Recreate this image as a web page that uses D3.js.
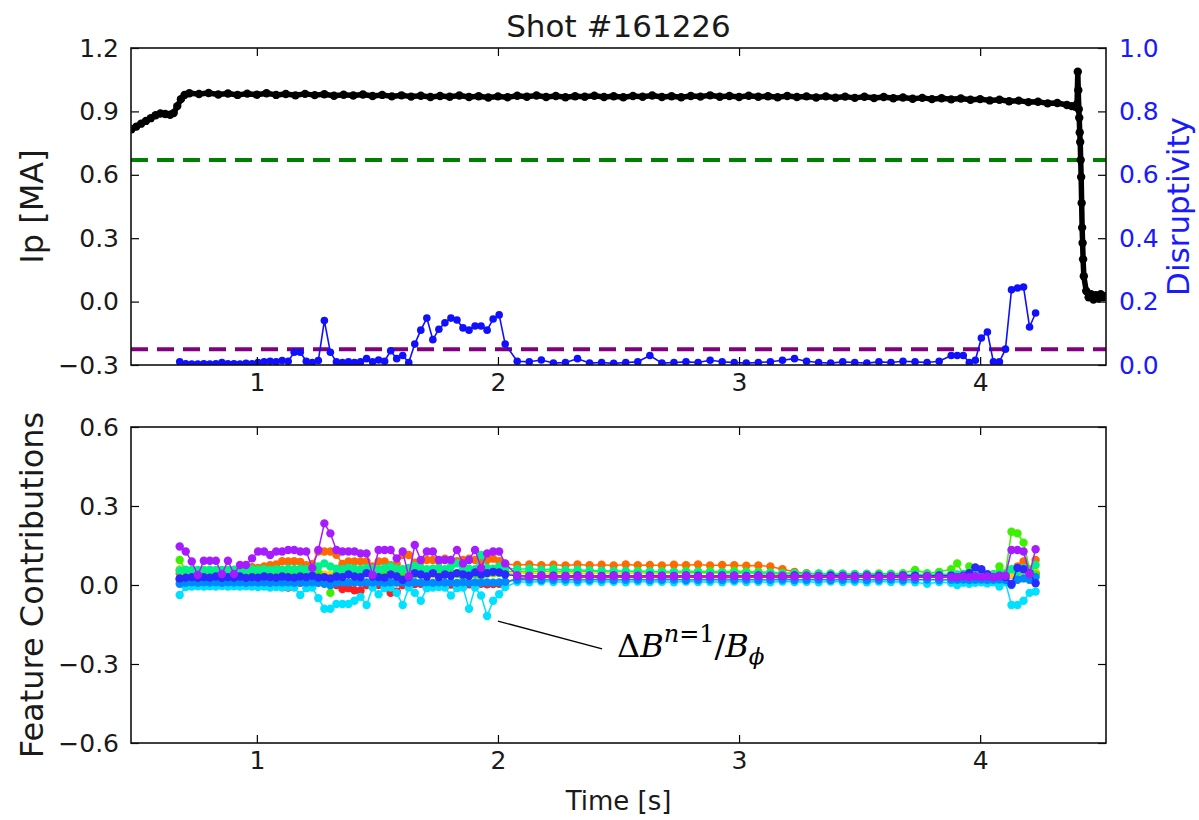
<!DOCTYPE html>
<html>
<head>
<meta charset="utf-8">
<script src="https://cdn.jsdelivr.net/npm/d3@7"></script>
<style>
body { margin: 0; background: #fff; }
text { font-family: "DejaVu Sans", sans-serif; fill: #1a1a1a; }
</style>
</head>
<body>
<script>
// ---- plasma current (top panel, left axis) ----
var ipT = [
	0.48, 0.50, 0.52, 0.54, 0.56, 0.58, 0.60, 0.62, 0.64, 0.655,
	0.67, 0.685, 0.70, 0.72, 0.76, 0.80, 0.84, 0.88, 0.92, 0.96,
	1.00, 1.04, 1.08, 1.12, 1.16, 1.20, 1.24, 1.28, 1.32, 1.36,
	1.40, 1.44, 1.48, 1.52, 1.56, 1.60, 1.64, 1.68, 1.72, 1.76,
	1.80, 1.84, 1.88, 1.92, 1.96, 2.00, 2.04, 2.08, 2.12, 2.16,
	2.20, 2.24, 2.28, 2.32, 2.36, 2.40, 2.44, 2.48, 2.52, 2.56,
	2.60, 2.64, 2.68, 2.72, 2.76, 2.80, 2.84, 2.88, 2.92, 2.96,
	3.00, 3.04, 3.08, 3.12, 3.16, 3.20, 3.24, 3.28, 3.32, 3.36,
	3.40, 3.44, 3.48, 3.52, 3.56, 3.60, 3.64, 3.68, 3.72, 3.76,
	3.80, 3.84, 3.88, 3.92, 3.96, 4.00, 4.04, 4.08, 4.12, 4.16,
	4.20, 4.24, 4.28, 4.32, 4.36, 4.38, 4.395, 4.402, 4.405, 4.407,
	4.409, 4.411, 4.413, 4.415, 4.417, 4.419, 4.421, 4.423, 4.425, 4.427,
	4.43, 4.44, 4.45, 4.46, 4.47, 4.48, 4.49, 4.50, 4.51, 4.52
];
var ipMA = [
	0.815, 0.828, 0.842, 0.855, 0.868, 0.882, 0.890, 0.888, 0.884, 0.892,
	0.925, 0.958, 0.978, 0.986, 0.982, 0.987, 0.980, 0.985, 0.978, 0.984,
	0.979, 0.986, 0.978, 0.982, 0.976, 0.983, 0.977, 0.981, 0.974, 0.979,
	0.975, 0.980, 0.973, 0.978, 0.971, 0.976, 0.970, 0.974, 0.968, 0.973,
	0.969, 0.975, 0.968, 0.972, 0.966, 0.971, 0.967, 0.974, 0.969, 0.975,
	0.968, 0.973, 0.967, 0.972, 0.969, 0.974, 0.968, 0.972, 0.967, 0.973,
	0.969, 0.975, 0.968, 0.972, 0.967, 0.973, 0.970, 0.976, 0.969, 0.973,
	0.968, 0.974, 0.969, 0.972, 0.967, 0.973, 0.968, 0.971, 0.966, 0.971,
	0.965, 0.970, 0.964, 0.969, 0.963, 0.968, 0.962, 0.966, 0.960, 0.964,
	0.958, 0.962, 0.957, 0.961, 0.955, 0.958, 0.952, 0.955, 0.948, 0.951,
	0.944, 0.946, 0.938, 0.940, 0.930, 0.925, 0.922, 0.935, 1.088, 1.000,
	0.910, 0.870, 0.800, 0.755, 0.670, 0.590, 0.466, 0.350, 0.277, 0.200,
	0.120, 0.050, 0.020, 0.035, 0.010, 0.030, 0.015, 0.035, 0.020, 0.025
];

// ---- model output times (shared by disruptivity and feature contributions) ----
var t = [
	0.680, 0.705, 0.730, 0.755, 0.780, 0.805, 0.830, 0.855, 0.880, 0.905, 0.930, 0.955, 0.980, 1.005, 1.030, 1.055, 1.080, 1.105, 1.130, 1.155,
	1.180, 1.205, 1.230, 1.255, 1.280, 1.305, 1.330, 1.355, 1.380, 1.405, 1.430, 1.455, 1.480, 1.505, 1.530, 1.555, 1.580, 1.605, 1.630, 1.655,
	1.680, 1.705, 1.730, 1.755, 1.780, 1.805, 1.830, 1.855, 1.880, 1.905, 1.930, 1.955, 1.980, 2.005, 2.030,
	2.08, 2.13, 2.18, 2.23, 2.28, 2.33, 2.38, 2.43, 2.48, 2.53, 2.58, 2.63, 2.68, 2.73, 2.78, 2.83, 2.88, 2.93, 2.98,
	3.03, 3.08, 3.13, 3.18, 3.23, 3.28, 3.33, 3.38, 3.43, 3.48, 3.53, 3.58, 3.63, 3.68, 3.73, 3.78, 3.83, 3.88,
	3.905, 3.930, 3.955, 3.980, 4.005, 4.030, 4.055, 4.080, 4.105, 4.130, 4.155, 4.180, 4.205, 4.230
];

var disruptivity = [
	0.010, 0.004, 0.003, 0.003, 0.004, 0.003, 0.004, 0.008, 0.004, 0.004, 0.003, 0.005, 0.004, 0.008, 0.010, 0.012, 0.010, 0.014, 0.012, 0.040,
	0.040, 0.012, 0.008, 0.014, 0.140, 0.040, 0.010, 0.008, 0.010, 0.008, 0.010, 0.020, 0.010, 0.016, 0.012, 0.045, 0.020, 0.030, 0.008, 0.066,
	0.110, 0.148, 0.080, 0.113, 0.133, 0.148, 0.142, 0.117, 0.110, 0.123, 0.123, 0.110, 0.145, 0.158, 0.066,
	0.012, 0.010, 0.016, 0.006, 0.008, 0.020, 0.006, 0.008, 0.005, 0.008, 0.010, 0.030, 0.006, 0.008, 0.010, 0.008, 0.015, 0.010, 0.008,
	0.006, 0.008, 0.010, 0.015, 0.020, 0.012, 0.008, 0.006, 0.010, 0.008, 0.006, 0.010, 0.008, 0.012, 0.010, 0.008, 0.012, 0.030,
	0.030, 0.030, 0.008, 0.015, 0.085, 0.104, 0.010, 0.010, 0.050, 0.237, 0.243, 0.246, 0.120, 0.164
];

// feature contributions, one array per feature (hsv colour order)
var fcRed = [
	0.020, 0.018, 0.020, 0.017, 0.019, 0.018, 0.020, 0.017, 0.019, 0.018, 0.015, 0.012, 0.010, 0.012, 0.010, 0.008, 0.005, 0.005, -0.010, 0.005,
	0.008, 0.005, 0.006, 0.010, 0.008, 0.005, 0.000, -0.015, -0.012, -0.020, -0.022, 0.000, 0.005, 0.000, -0.005, -0.030, -0.025, 0.000, 0.005, 0.004,
	0.005, 0.002, 0.000, 0.004, 0.005, 0.002, 0.000, 0.004, 0.003, 0.000, 0.005, 0.003, 0.004, 0.005, 0.010,
	0.025, 0.028, 0.030, 0.027, 0.030, 0.028, 0.030, 0.027, 0.029, 0.030, 0.028, 0.030, 0.027, 0.029, 0.030, 0.028, 0.030, 0.027, 0.029,
	0.030, 0.028, 0.030, 0.027, 0.029, 0.030, 0.028, 0.030, 0.027, 0.029, 0.030, 0.028, 0.030, 0.027, 0.029, 0.030, 0.028, 0.030,
	0.030, 0.028, 0.030, 0.032, 0.030, 0.028, 0.030, 0.032, 0.030, 0.040, 0.050, 0.075, 0.040, 0.045
];
var fcOrange = [
	0.045, 0.048, 0.046, 0.050, 0.047, 0.049, 0.046, 0.050, 0.048, 0.052, 0.060, 0.065, 0.068, 0.065, 0.070, 0.075, 0.078, 0.090, 0.089, 0.090,
	0.088, 0.075, 0.080, 0.127, 0.127, 0.127, 0.115, 0.080, 0.089, 0.089, 0.089, 0.089, 0.070, 0.089, 0.089, 0.075, 0.080, 0.114, 0.114, 0.085,
	0.090, 0.095, 0.095, 0.090, 0.100, 0.095, 0.090, 0.095, 0.100, 0.095, 0.090, 0.095, 0.100, 0.090, 0.080,
	0.076, 0.078, 0.075, 0.077, 0.074, 0.078, 0.075, 0.077, 0.074, 0.078, 0.075, 0.076, 0.074, 0.077, 0.075, 0.078, 0.074, 0.076, 0.075,
	0.073, 0.074, 0.070, 0.060, 0.050, 0.045, 0.042, 0.040, 0.041, 0.039, 0.040, 0.038, 0.040, 0.039, 0.037, 0.040, 0.038, 0.040,
	0.038, 0.040, 0.037, 0.040, 0.042, 0.038, 0.040, 0.042, 0.040, 0.050, 0.070, 0.089, 0.050, 0.095
];
var fcYellow = [
	0.060, 0.045, 0.043, 0.045, 0.044, 0.046, 0.043, 0.045, 0.044, 0.046, 0.043, 0.045, 0.044, 0.046, 0.043, 0.045, 0.044, 0.046, 0.043, 0.045,
	0.044, 0.046, 0.043, 0.045, 0.040, 0.038, 0.042, 0.045, 0.044, 0.046, 0.043, 0.045, 0.044, 0.046, 0.043, 0.045, 0.044, 0.046, 0.043, 0.045,
	0.044, 0.046, 0.043, 0.045, 0.044, 0.046, 0.043, 0.045, 0.044, 0.046, 0.043, 0.045, 0.044, 0.046, 0.043,
	0.045, 0.046, 0.044, 0.045, 0.046, 0.044, 0.045, 0.046, 0.044, 0.045, 0.046, 0.044, 0.045, 0.046, 0.044, 0.045, 0.046, 0.044, 0.045,
	0.044, 0.043, 0.042, 0.040, 0.038, 0.036, 0.035, 0.036, 0.035, 0.034, 0.035, 0.036, 0.035, 0.034, 0.035, 0.036, 0.035, 0.034,
	0.035, 0.036, 0.035, 0.034, 0.035, 0.036, 0.035, 0.034, 0.035, 0.040, 0.045, 0.050, 0.020, 0.050
];
var fcLime = [
	0.095, 0.055, 0.057, 0.055, 0.057, 0.054, 0.057, 0.055, 0.057, 0.054, 0.050, 0.052, 0.048, 0.050, 0.047, 0.050, 0.046, 0.048, 0.045, 0.047,
	0.045, 0.047, 0.044, 0.046, 0.020, -0.030, 0.040, 0.045, 0.043, 0.046, 0.040, 0.045, 0.042, 0.046, 0.044, 0.040, 0.043, 0.045, 0.020, 0.040,
	0.045, 0.042, 0.046, 0.044, 0.040, 0.045, 0.043, 0.030, 0.045, 0.042, 0.010, 0.044, 0.046, 0.045, 0.050,
	0.052, 0.050, 0.053, 0.051, 0.052, 0.050, 0.053, 0.051, 0.052, 0.050, 0.053, 0.051, 0.052, 0.050, 0.053, 0.051, 0.052, 0.050, 0.053,
	0.051, 0.050, 0.048, 0.046, 0.045, 0.044, 0.043, 0.044, 0.043, 0.042, 0.043, 0.044, 0.043, 0.045, 0.057, 0.045, 0.050, 0.060,
	0.082, 0.040, 0.070, 0.040, 0.035, 0.040, 0.040, 0.070, 0.045, 0.202, 0.196, 0.161, 0.060, 0.040
];
var fcSpring = [
	0.055, 0.058, 0.055, 0.057, 0.055, 0.058, 0.056, 0.057, 0.055, 0.058, 0.056, 0.058, 0.060, 0.058, 0.060, 0.057, 0.060, 0.058, 0.062, 0.060,
	0.062, 0.060, 0.058, 0.070, 0.082, 0.070, 0.062, 0.060, 0.065, 0.062, 0.060, 0.065, 0.062, 0.060, 0.065, 0.070, 0.062, 0.060, 0.065, 0.072,
	0.065, 0.060, 0.062, 0.065, 0.060, 0.070, 0.082, 0.065, 0.062, 0.060, 0.114, 0.065, 0.062, 0.070, 0.065,
	0.060, 0.062, 0.058, 0.061, 0.057, 0.058, 0.055, 0.054, 0.052, 0.053, 0.050, 0.051, 0.049, 0.050, 0.048, 0.049, 0.047, 0.048, 0.046,
	0.047, 0.045, 0.046, 0.044, 0.045, 0.043, 0.044, 0.042, 0.043, 0.041, 0.042, 0.040, 0.041, 0.040, 0.041, 0.040, 0.042, 0.040,
	0.040, 0.042, 0.040, 0.041, 0.040, 0.042, 0.040, 0.041, 0.042, 0.060, 0.050, 0.065, 0.050, 0.076
];
var fcCyan = [
	-0.038, -0.008, -0.006, -0.005, -0.006, -0.005, -0.006, -0.004, -0.006, -0.005, -0.006, -0.005, -0.006, -0.008, -0.006, -0.010, -0.008, -0.010, -0.008, -0.010,
	-0.038, -0.012, -0.010, -0.050, -0.090, -0.090, -0.072, -0.072, -0.072, -0.060, -0.045, -0.076, -0.010, -0.035, -0.012, -0.010, -0.030, -0.076, -0.010, -0.030,
	-0.060, -0.012, -0.010, -0.008, -0.010, -0.040, -0.012, -0.010, -0.090, -0.010, -0.040, -0.118, -0.060, -0.035, -0.008,
	0.012, 0.010, 0.013, 0.011, 0.012, 0.010, 0.013, 0.011, 0.012, 0.010, 0.013, 0.011, 0.012, 0.010, 0.013, 0.011, 0.012, 0.010, 0.013,
	0.011, 0.012, 0.010, 0.013, 0.011, 0.012, 0.010, 0.013, 0.011, 0.012, 0.010, 0.013, 0.011, 0.012, 0.010, 0.005, 0.011, 0.008,
	0.000, 0.008, 0.005, 0.008, 0.010, 0.006, 0.010, -0.006, 0.010, -0.076, -0.076, -0.060, -0.030, -0.025
];
var fcAzure = [
	0.005, 0.008, 0.010, 0.008, 0.010, 0.009, 0.010, 0.008, 0.010, 0.009, 0.010, 0.008, 0.010, 0.009, 0.010, 0.008, 0.010, 0.009, 0.010, 0.008,
	0.010, 0.009, 0.010, 0.008, 0.005, 0.000, 0.008, 0.010, 0.009, 0.010, 0.008, 0.010, 0.009, 0.010, 0.008, 0.010, 0.009, 0.010, 0.008, 0.010,
	0.009, 0.010, 0.008, 0.010, 0.009, 0.010, 0.008, 0.010, 0.009, 0.010, 0.008, 0.010, 0.009, 0.010, 0.012,
	0.020, 0.021, 0.019, 0.020, 0.021, 0.019, 0.020, 0.021, 0.019, 0.020, 0.021, 0.019, 0.020, 0.021, 0.019, 0.020, 0.021, 0.019, 0.020,
	0.021, 0.019, 0.020, 0.021, 0.019, 0.020, 0.021, 0.019, 0.020, 0.021, 0.019, 0.020, 0.021, 0.019, 0.020, 0.021, 0.019, 0.020,
	0.020, 0.021, 0.019, 0.020, 0.021, 0.019, 0.020, 0.021, 0.019, 0.000, 0.020, 0.025, 0.020, 0.030
];
var fcBlue = [
	0.025, 0.028, 0.030, 0.027, 0.030, 0.028, 0.032, 0.027, 0.030, 0.028, 0.032, 0.027, 0.030, 0.028, 0.032, 0.030, 0.028, 0.032, 0.030, 0.028,
	0.032, 0.030, 0.035, 0.028, 0.030, 0.025, 0.032, 0.030, 0.040, 0.032, 0.030, 0.045, 0.032, 0.030, 0.028, 0.040, 0.032, 0.020, 0.030, 0.045,
	0.040, 0.032, 0.045, 0.030, 0.040, 0.035, 0.045, 0.040, 0.035, 0.048, 0.040, 0.045, 0.050, 0.048, 0.040,
	0.035, 0.034, 0.036, 0.035, 0.034, 0.036, 0.035, 0.034, 0.036, 0.035, 0.034, 0.036, 0.035, 0.034, 0.036, 0.035, 0.034, 0.036, 0.035,
	0.034, 0.036, 0.035, 0.034, 0.036, 0.035, 0.034, 0.036, 0.035, 0.034, 0.036, 0.035, 0.034, 0.036, 0.035, 0.034, 0.036, 0.035,
	0.030, 0.035, 0.045, 0.067, 0.060, 0.040, 0.030, 0.035, 0.030, 0.004, 0.065, 0.060, 0.045, 0.007
];
var fcPurple = [
	0.146, 0.127, 0.089, 0.038, 0.092, 0.092, 0.092, 0.042, 0.092, 0.042, 0.076, 0.076, 0.101, 0.127, 0.127, 0.114, 0.127, 0.127, 0.133, 0.133,
	0.127, 0.127, 0.065, 0.133, 0.234, 0.196, 0.133, 0.127, 0.127, 0.127, 0.120, 0.120, 0.038, 0.133, 0.133, 0.133, 0.101, 0.127, 0.032, 0.152,
	0.095, 0.127, 0.127, 0.095, 0.095, 0.095, 0.133, 0.082, 0.095, 0.133, 0.065, 0.120, 0.127, 0.127, 0.082,
	0.036, 0.033, 0.035, 0.032, 0.034, 0.033, 0.035, 0.032, 0.034, 0.033, 0.035, 0.032, 0.034, 0.033, 0.035, 0.032, 0.034, 0.033, 0.035,
	0.032, 0.034, 0.033, 0.035, 0.032, 0.034, 0.033, 0.031, 0.033, 0.032, 0.034, 0.031, 0.033, 0.032, 0.030, 0.033, 0.031, 0.030,
	0.030, 0.032, 0.030, 0.033, 0.030, 0.032, 0.030, 0.033, 0.035, 0.133, 0.133, 0.127, 0.042, 0.136
];

var features = [fcRed, fcOrange, fcYellow, fcLime, fcSpring, fcCyan, fcAzure, fcBlue, fcPurple];
var featureColors = ['#ff1e1e', '#ff6a00', '#ffd200', '#3cf000', '#00f08c', '#00e1ff', '#0088ff', '#2a2aff', '#a61cff'];

// ticks and reference levels
var xTicks = [1, 2, 3, 4];
var ipTicks = [-0.3, 0, 0.3, 0.6, 0.9, 1.2];
var disTicks = [0, 0.2, 0.4, 0.6, 0.8, 1.0];
var fcTicks = [-0.6, -0.3, 0, 0.3, 0.6];
var ipThreshold = 0.67;
var disThreshold = 0.05;
var annoFrom = [2.0, -0.137], annoTo = [2.432, -0.243], annoText = [2.494, -0.273];

var margin = { left: 131, right: 93 };
var width = 1199 - margin.left - margin.right;
var top1 = 48, bot1 = 365, top2 = 427, bot2 = 743;

var svg = d3.select('body').append('svg').attr('width', 1199).attr('height', 820);

var x = d3.scaleLinear().domain([0.478, 4.522]).range([margin.left, margin.left + width]);
var yIp = d3.scaleLinear().domain([-0.3, 1.2]).range([bot1, top1]);
var yDis = d3.scaleLinear().domain([0, 1]).range([bot1, top1]);
var yFc = d3.scaleLinear().domain([-0.6, 0.6]).range([bot2, top2]);

var fmt = d3.format('.1f');

svg.append('clipPath').attr('id', 'clip1').append('rect')
	.attr('x', margin.left).attr('y', top1).attr('width', width).attr('height', bot1 - top1);
svg.append('clipPath').attr('id', 'clip2').append('rect')
	.attr('x', margin.left).attr('y', top2).attr('width', width).attr('height', bot2 - top2);

function drawSeries(g, xs, ys, yScale, color, r, lw) {
	var pts = xs.map(function(d, i) { return [d, ys[i]]; }).filter(function(d) { return d[1] != null; });
	g.append('path').datum(pts)
		.attr('fill', 'none').attr('stroke', color).attr('stroke-width', lw).attr('stroke-linejoin', 'round')
		.attr('d', d3.line().x(function(d) { return x(d[0]); }).y(function(d) { return yScale(d[1]); }));
	g.selectAll(null).data(pts).enter().append('circle')
		.attr('cx', function(d) { return x(d[0]); })
		.attr('cy', function(d) { return yScale(d[1]); })
		.attr('r', r).attr('fill', color);
}

function hline(g, yScale, v, color) {
	g.append('line')
		.attr('x1', margin.left).attr('x2', margin.left + width)
		.attr('y1', yScale(v)).attr('y2', yScale(v))
		.attr('stroke', color).attr('stroke-width', 4).attr('stroke-dasharray', '17,9');
}

function styleAxis(a, labelColor) {
	a.select('.domain').remove();
	a.selectAll('line').attr('stroke', '#000').attr('stroke-width', 1.2);
	a.selectAll('text').style('font-size', '25px').style('fill', labelColor || '#1a1a1a').attr('font-family', null);
}

// ---------- top panel ----------
var g1 = svg.append('g').attr('clip-path', 'url(#clip1)');
hline(g1, yIp, ipThreshold, '#008000');
drawSeries(g1, ipT, ipMA, yIp, '#000', 4.2, 5.5);
hline(g1, yDis, disThreshold, '#800080');
drawSeries(g1, t, disruptivity, yDis, '#1010ff', 3.8, 1.6);

styleAxis(svg.append('g').attr('transform', 'translate(0,' + bot1 + ')')
	.call(d3.axisBottom(x).tickValues(xTicks).tickFormat(d3.format('d')).tickSizeInner(-8).tickSizeOuter(0).tickPadding(8)));
styleAxis(svg.append('g').attr('transform', 'translate(0,' + top1 + ')')
	.call(d3.axisTop(x).tickValues(xTicks).tickFormat('').tickSizeInner(-8).tickSizeOuter(0)));
styleAxis(svg.append('g').attr('transform', 'translate(' + margin.left + ',0)')
	.call(d3.axisLeft(yIp).tickValues(ipTicks).tickFormat(fmt).tickSizeInner(-8).tickSizeOuter(0).tickPadding(12)));
styleAxis(svg.append('g').attr('transform', 'translate(' + (margin.left + width) + ',0)')
	.call(d3.axisRight(yDis).tickValues(disTicks).tickFormat(fmt).tickSizeInner(-8).tickSizeOuter(0).tickPadding(13)), '#1a1aff');

svg.append('rect').attr('x', margin.left).attr('y', top1).attr('width', width).attr('height', bot1 - top1)
	.attr('fill', 'none').attr('stroke', '#111').attr('stroke-width', 1.6);

// ---------- bottom panel ----------
var g2 = svg.append('g').attr('clip-path', 'url(#clip2)');
features.forEach(function(vals, i) {
	drawSeries(g2, t, vals, yFc, featureColors[i], 4.2, 1.5);
});

styleAxis(svg.append('g').attr('transform', 'translate(0,' + bot2 + ')')
	.call(d3.axisBottom(x).tickValues(xTicks).tickFormat(d3.format('d')).tickSizeInner(-8).tickSizeOuter(0).tickPadding(8)));
styleAxis(svg.append('g').attr('transform', 'translate(0,' + top2 + ')')
	.call(d3.axisTop(x).tickValues(xTicks).tickFormat('').tickSizeInner(-8).tickSizeOuter(0)));
styleAxis(svg.append('g').attr('transform', 'translate(' + margin.left + ',0)')
	.call(d3.axisLeft(yFc).tickValues(fcTicks).tickFormat(fmt).tickSizeInner(-8).tickSizeOuter(0).tickPadding(12)));
styleAxis(svg.append('g').attr('transform', 'translate(' + (margin.left + width) + ',0)')
	.call(d3.axisRight(yFc).tickValues(fcTicks).tickFormat('').tickSizeInner(-8).tickSizeOuter(0)));

svg.append('rect').attr('x', margin.left).attr('y', top2).attr('width', width).attr('height', bot2 - top2)
	.attr('fill', 'none').attr('stroke', '#111').attr('stroke-width', 1.6);

// annotation for the n=1 mode feature
svg.append('line')
	.attr('x1', x(annoFrom[0])).attr('y1', yFc(annoFrom[1]))
	.attr('x2', x(annoTo[0])).attr('y2', yFc(annoTo[1]))
	.attr('stroke', '#000').attr('stroke-width', 1.3);
var lab = svg.append('text')
	.attr('x', x(annoText[0])).attr('y', yFc(annoText[1]))
	.style('font-family', '"DejaVu Serif", serif').style('font-size', '32px').style('fill', '#000');
lab.append('tspan').text('\u0394');
lab.append('tspan').style('font-style', 'italic').text('B');
lab.append('tspan').attr('dy', -15).style('font-size', '24px').style('font-style', 'italic').text('n');
lab.append('tspan').style('font-size', '24px').text('=1');
lab.append('tspan').attr('dy', 15).text('/');
lab.append('tspan').style('font-style', 'italic').text('B');
lab.append('tspan').attr('dy', 7).style('font-size', '23px').style('font-style', 'italic').text('\u03d5');

// ---------- titles and axis labels ----------
var cx = margin.left + width / 2;
svg.append('text').attr('x', cx).attr('y', 37).attr('text-anchor', 'middle')
	.style('font-size', '31px').text('Shot #161226');
svg.append('text').attr('transform', 'translate(43,' + (top1 + bot1) / 2 + ') rotate(-90)')
	.attr('text-anchor', 'middle').style('font-size', '32px').text('Ip [MA]');
svg.append('text').attr('transform', 'translate(1189,' + (top1 + bot1) / 2 + ') rotate(-90)')
	.attr('text-anchor', 'middle').style('font-size', '31px').style('fill', '#1a1aff').text('Disruptivity');
svg.append('text').attr('transform', 'translate(43,' + (top2 + bot2) / 2 + ') rotate(-90)')
	.attr('text-anchor', 'middle').style('font-size', '32px').text('Feature Contributions');
svg.append('text').attr('x', cx).attr('y', 810).attr('text-anchor', 'middle')
	.style('font-size', '26px').text('Time [s]');
</script>
</body>
</html>
